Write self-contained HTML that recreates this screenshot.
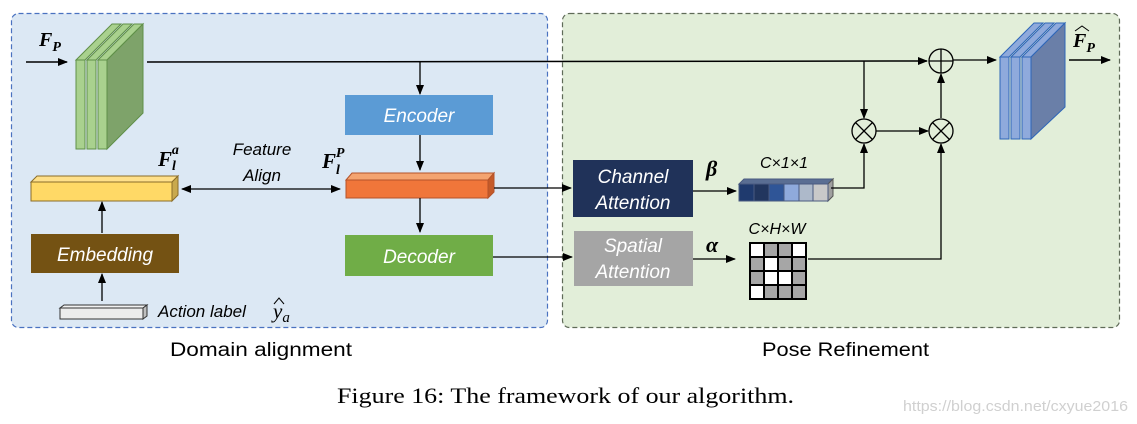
<!DOCTYPE html>
<html><head><meta charset="utf-8"><style>
html,body{margin:0;padding:0;background:#fff;}
svg{display:block;}
</style></head><body>
<svg width="1137" height="424" viewBox="0 0 1137 424" xmlns="http://www.w3.org/2000/svg">
<defs>
<marker id="ar" markerWidth="10" markerHeight="8" refX="9" refY="4" orient="auto" markerUnits="userSpaceOnUse">
<path d="M0,0 L10,4 L0,8 z" fill="#000"/></marker>
<marker id="al" markerWidth="10" markerHeight="8" refX="1" refY="4" orient="auto" markerUnits="userSpaceOnUse">
<path d="M10,0 L0,4 L10,8 z" fill="#000"/></marker>
</defs>
<!-- panels -->
<rect x="11.5" y="13.5" width="536" height="314" rx="7" fill="#dce8f4" stroke="#4a72c0" stroke-width="1.2" stroke-dasharray="5,3"/>
<rect x="562.5" y="13.5" width="557" height="314" rx="7" fill="#e2eed9" stroke="#5f6b58" stroke-width="1.2" stroke-dasharray="5,3"/>

<!-- green stack -->
<polygon points="76,60 112,24 121,24 85,60" fill="#a9d18e" stroke="#5f8f48"/>
<polygon points="87,60 123,24 132,24 96,60" fill="#a9d18e" stroke="#5f8f48"/>
<polygon points="98,60 134,24 143,24 107,60" fill="#a9d18e" stroke="#5f8f48"/>
<rect x="76" y="60" width="9" height="89" fill="#a9d18e" stroke="#5f8f48"/>
<rect x="87" y="60" width="9" height="89" fill="#a9d18e" stroke="#5f8f48"/>
<rect x="98" y="60" width="9" height="89" fill="#a9d18e" stroke="#5f8f48"/>
<polygon points="107,149 143,113 143,24 107,60" fill="#7ea36a" stroke="#5f8f48"/>
<line x1="26" y1="62" x2="67" y2="62" stroke="#000" stroke-width="1.5" marker-end="url(#ar)"/>
<text x="39" y="46" font-family="Liberation Serif,serif" font-style="italic" font-weight="bold" font-size="20">F<tspan font-size="14" dy="5">P</tspan></text>

<!-- main line -->
<line x1="147" y1="62" x2="927" y2="61" stroke="#000" stroke-width="1.5" marker-end="url(#ar)"/>
<line x1="420" y1="62" x2="420" y2="94" stroke="#000" stroke-width="1.3" marker-end="url(#ar)"/>

<!-- encoder -->
<rect x="345" y="95" width="148" height="40" fill="#5b9bd5"/>
<text x="419" y="122" text-anchor="middle" font-family="Liberation Sans,sans-serif" font-style="italic" font-size="19" fill="#fff">Encoder</text>
<line x1="420" y1="135" x2="420" y2="170" stroke="#000" stroke-width="1.3" marker-end="url(#ar)"/>
<!-- orange bar -->
<polygon points="346,180 352,173 494,173 488,180" fill="#f4a470" stroke="#b5532a"/>
<polygon points="488,198 494,192 494,173 488,180" fill="#c55a28" stroke="#b5532a"/>
<rect x="346" y="180" width="142" height="18" fill="#f0763a" stroke="#b5532a"/>
<text x="322" y="168" font-family="Liberation Serif,serif" font-style="italic" font-weight="bold" font-size="21">F<tspan font-size="14" dy="6">l</tspan><tspan font-size="14" dx="-4" dy="-17">P</tspan></text>
<line x1="420" y1="198" x2="420" y2="232" stroke="#000" stroke-width="1.3" marker-end="url(#ar)"/>
<!-- decoder -->
<rect x="345" y="235" width="148" height="41" fill="#70ad47"/>
<text x="419" y="263" text-anchor="middle" font-family="Liberation Sans,sans-serif" font-style="italic" font-size="19" fill="#fff">Decoder</text>

<!-- yellow bar -->
<polygon points="31,182 37,176 178,176 172,182" fill="#ffe08a" stroke="#8a6d2a"/>
<polygon points="172,201 178,195 178,176 172,182" fill="#c9a94d" stroke="#8a6d2a"/>
<rect x="31" y="182" width="141" height="19" fill="#ffd966" stroke="#8a6d2a"/>
<text x="158" y="166" font-family="Liberation Serif,serif" font-style="italic" font-weight="bold" font-size="21">F<tspan font-size="14" dy="4">l</tspan><tspan font-size="14" dx="-4" dy="-16">a</tspan></text>
<line x1="182" y1="189" x2="340" y2="189" stroke="#000" stroke-width="1.3" marker-start="url(#al)" marker-end="url(#ar)"/>
<text x="262" y="155" text-anchor="middle" font-family="Liberation Sans,sans-serif" font-style="italic" font-size="17">Feature</text>
<text x="262" y="181" text-anchor="middle" font-family="Liberation Sans,sans-serif" font-style="italic" font-size="17">Align</text>
<!-- embedding -->
<line x1="102" y1="233" x2="102" y2="202" stroke="#000" stroke-width="1.3" marker-end="url(#ar)"/>
<rect x="31" y="234" width="148" height="39" fill="#745213"/>
<text x="105" y="261" text-anchor="middle" font-family="Liberation Sans,sans-serif" font-style="italic" font-size="19" fill="#fff">Embedding</text>
<line x1="102" y1="301" x2="102" y2="274" stroke="#000" stroke-width="1.3" marker-end="url(#ar)"/>
<!-- action label bar -->
<polygon points="60,308 64,305 147,305 143,308" fill="#f2f2f2" stroke="#333"/>
<polygon points="143,319 147,316 147,305 143,308" fill="#bfbfbf" stroke="#333"/>
<rect x="60" y="308" width="83" height="11" fill="#ececec" stroke="#333"/>
<text x="158" y="317" font-family="Liberation Sans,sans-serif" font-style="italic" font-size="17">Action label</text>
<text x="273" y="318" font-family="Liberation Serif,serif" font-style="italic" font-size="21">y<tspan font-size="15" dy="4">a</tspan></text>
<path d="M274,304 L279,298 L284,304" fill="none" stroke="#000" stroke-width="1"/>

<!-- connections to attention -->
<line x1="494" y1="188" x2="571" y2="188" stroke="#000" stroke-width="1.3" marker-end="url(#ar)"/>
<line x1="493" y1="257" x2="572" y2="257" stroke="#000" stroke-width="1.3" marker-end="url(#ar)"/>
<rect x="573" y="160" width="120" height="57" fill="#203259"/>
<text x="633" y="183" text-anchor="middle" font-family="Liberation Sans,sans-serif" font-style="italic" font-size="19" fill="#fff">Channel</text>
<text x="633" y="209" text-anchor="middle" font-family="Liberation Sans,sans-serif" font-style="italic" font-size="19" fill="#fff">Attention</text>
<rect x="574" y="231" width="119" height="55" fill="#a5a5a5"/>
<text x="633" y="252" text-anchor="middle" font-family="Liberation Sans,sans-serif" font-style="italic" font-size="19" fill="#fff">Spatial</text>
<text x="633" y="278" text-anchor="middle" font-family="Liberation Sans,sans-serif" font-style="italic" font-size="19" fill="#fff">Attention</text>

<text x="706" y="176" font-family="Liberation Serif,serif" font-style="italic" font-weight="bold" font-size="22">β</text>
<line x1="693" y1="191" x2="736" y2="191" stroke="#000" stroke-width="1.3" marker-end="url(#ar)"/>
<text x="706" y="252" font-family="Liberation Serif,serif" font-style="italic" font-weight="bold" font-size="22">α</text>
<line x1="693" y1="259" x2="735" y2="259" stroke="#000" stroke-width="1.3" marker-end="url(#ar)"/>

<!-- vector -->
<text x="784" y="168" text-anchor="middle" font-family="Liberation Sans,sans-serif" font-style="italic" font-size="16">C×1×1</text>
<polygon points="739,184 744,179 833,179 828,184" fill="#5a6e93" stroke="#4a5a80"/>
<polygon points="828,201 833,196 833,179 828,184" fill="#a0a0a0" stroke="#555"/>
<rect x="739" y="184" width="15" height="17" fill="#1f3a6e" stroke="#4a5a80"/>
<rect x="754" y="184" width="15" height="17" fill="#22365e" stroke="#4a5a80"/>
<rect x="769" y="184" width="15" height="17" fill="#2f5597" stroke="#4a5a80"/>
<rect x="784" y="184" width="15" height="17" fill="#8faadc" stroke="#4a5a80"/>
<rect x="799" y="184" width="14" height="17" fill="#adb9ca" stroke="#4a5a80"/>
<rect x="813" y="184" width="15" height="17" fill="#c9c9c9" stroke="#4a5a80"/>

<!-- grid -->
<text x="777" y="234" text-anchor="middle" font-family="Liberation Sans,sans-serif" font-style="italic" font-size="16">C×H×W</text>
<g stroke="#000" stroke-width="2">
<rect x="750" y="243" width="14" height="14" fill="#fff"/><rect x="764" y="243" width="14" height="14" fill="#a6a6a6"/><rect x="778" y="243" width="14" height="14" fill="#a6a6a6"/><rect x="792" y="243" width="14" height="14" fill="#fff"/>
<rect x="750" y="257" width="14" height="14" fill="#a6a6a6"/><rect x="764" y="257" width="14" height="14" fill="#fff"/><rect x="778" y="257" width="14" height="14" fill="#a6a6a6"/><rect x="792" y="257" width="14" height="14" fill="#a6a6a6"/>
<rect x="750" y="271" width="14" height="14" fill="#a6a6a6"/><rect x="764" y="271" width="14" height="14" fill="#fff"/><rect x="778" y="271" width="14" height="14" fill="#fff"/><rect x="792" y="271" width="14" height="14" fill="#a6a6a6"/>
<rect x="750" y="285" width="14" height="14" fill="#fff"/><rect x="764" y="285" width="14" height="14" fill="#a6a6a6"/><rect x="778" y="285" width="14" height="14" fill="#a6a6a6"/><rect x="792" y="285" width="14" height="14" fill="#a6a6a6"/>
</g>

<!-- operators -->
<line x1="864" y1="61" x2="864" y2="118" stroke="#000" stroke-width="1.3" marker-end="url(#ar)"/>
<polyline points="831,188 864,188 864,144" fill="none" stroke="#000" stroke-width="1.3" marker-end="url(#ar)"/>
<line x1="876" y1="131" x2="928" y2="131" stroke="#000" stroke-width="1.3" marker-end="url(#ar)"/>
<polyline points="808,259 941,259 941,144" fill="none" stroke="#000" stroke-width="1.3" marker-end="url(#ar)"/>
<line x1="941" y1="118" x2="941" y2="74" stroke="#000" stroke-width="1.3" marker-end="url(#ar)"/>
<g fill="none" stroke="#000" stroke-width="1.3">
<circle cx="864" cy="131" r="12"/><line x1="855.5" y1="122.5" x2="872.5" y2="139.5"/><line x1="872.5" y1="122.5" x2="855.5" y2="139.5"/>
<circle cx="941" cy="131" r="12"/><line x1="932.5" y1="122.5" x2="949.5" y2="139.5"/><line x1="949.5" y1="122.5" x2="932.5" y2="139.5"/>
<circle cx="941" cy="61" r="12"/><line x1="929" y1="61" x2="953" y2="61"/><line x1="941" y1="49" x2="941" y2="73"/>
</g>
<line x1="953" y1="60" x2="996" y2="60" stroke="#000" stroke-width="1.3" marker-end="url(#ar)"/>

<!-- blue stack -->
<polygon points="1000,57 1034,23 1043,23 1009,57" fill="#8faadc" stroke="#2e66b8"/>
<polygon points="1011,57 1045,23 1054,23 1020,57" fill="#8faadc" stroke="#2e66b8"/>
<polygon points="1022,57 1056,23 1065,23 1031,57" fill="#8faadc" stroke="#2e66b8"/>
<rect x="1000" y="57" width="9" height="82" fill="#8faadc" stroke="#2e66b8"/>
<rect x="1011" y="57" width="9" height="82" fill="#8faadc" stroke="#2e66b8"/>
<rect x="1022" y="57" width="9" height="82" fill="#8faadc" stroke="#2e66b8"/>
<polygon points="1031,139 1065,107 1065,23 1031,57" fill="#6a7fa8" stroke="#2e66b8"/>
<line x1="1069" y1="60" x2="1110" y2="60" stroke="#000" stroke-width="1.5" marker-end="url(#ar)"/>
<text x="1073" y="47" font-family="Liberation Serif,serif" font-style="italic" font-weight="bold" font-size="20">F<tspan font-size="14" dy="5">P</tspan></text>
<path d="M1075,31 L1082,26 L1089,31" fill="none" stroke="#000" stroke-width="1"/>

<!-- labels -->
<text x="170" y="356" textLength="182" lengthAdjust="spacingAndGlyphs" font-family="Liberation Sans,sans-serif" font-size="19">Domain alignment</text>
<text x="762" y="356" textLength="167" lengthAdjust="spacingAndGlyphs" font-family="Liberation Sans,sans-serif" font-size="19">Pose Refinement</text>
<text x="337" y="403" textLength="457" lengthAdjust="spacingAndGlyphs" font-family="Liberation Serif,serif" font-size="22">Figure 16: The framework of our algorithm.</text>
<text x="903" y="411" textLength="225" lengthAdjust="spacingAndGlyphs" font-family="Liberation Sans,sans-serif" font-size="15" fill="#d0d0d0">https://blog.csdn.net/cxyue2016</text>
</svg>
</body></html>
